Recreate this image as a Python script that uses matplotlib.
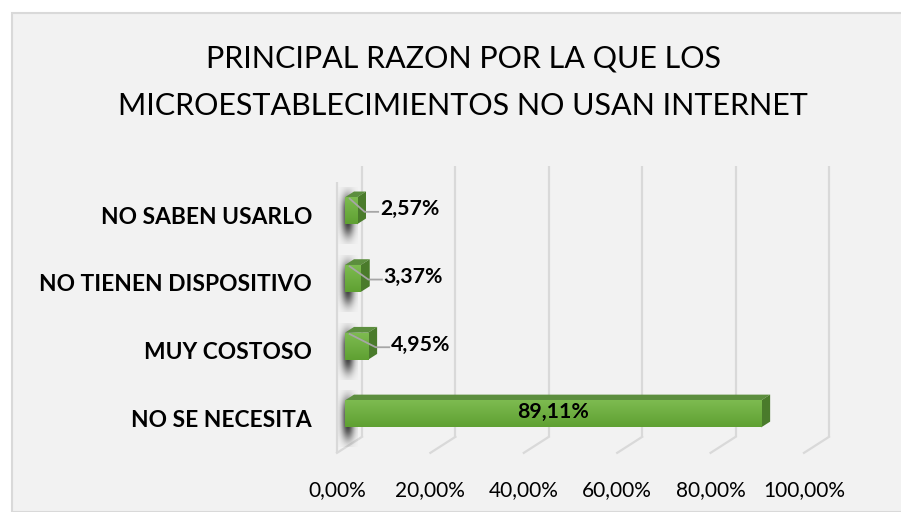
import numpy as np
import matplotlib.pyplot as plt
from matplotlib.patches import Polygon, Rectangle

# data (bottom to top as drawn)
categorias = ['NO SE NECESITA', 'MUY COSTOSO', 'NO TIENEN DISPOSITIVO', 'NO SABEN USARLO']
valores = [89.11, 4.95, 3.37, 2.57]
etiquetas = ['89,11%', '4,95%', '3,37%', '2,57%']
ticks = [0, 20, 40, 60, 80, 100]
tick_labels = ['0,00%', '20,00%', '40,00%', '60,00%', '80,00%', '100,00%']

plt.rcParams['font.family'] = ['Lato', 'DejaVu Sans']

W, H = 901, 512
fig = plt.figure(figsize=(W / 100, H / 100), dpi=100)
fig.patch.set_facecolor('white')
fig.patches.append(Rectangle((12 / W, 0), 1, 1 - 13 / H, transform=fig.transFigure,
                             facecolor='#f2f2f2', edgecolor='#d9d9d9', linewidth=1.5, zorder=-5))

fig.text(463 / W, 1 - 59 / H, 'PRINCIPAL RAZON POR LA QUE LOS', ha='center', va='center',
         fontsize=22, color='black')
fig.text(463 / W, 1 - 106 / H, 'MICROESTABLECIMIENTOS NO USAN INTERNET', ha='center', va='center',
         fontsize=22, color='black')

# axes: x px = 337 + 4.67*x, y px = 419 - 67.7*y (front plane)
ax_l, ax_r, ax_t, ax_b = 300, 860, 140, 470
ax = fig.add_axes([ax_l / W, 1 - ax_b / H, (ax_r - ax_l) / W, (ax_b - ax_t) / H], zorder=2)
ax.set_facecolor('none')
for s in ax.spines.values():
    s.set_visible(False)
ax.set_yticks([])
ax.set_xticks(ticks)
ax.set_xticklabels(tick_labels, fontsize=15)
ax.tick_params(axis='x', length=0, pad=7)

# depth projection
DX, DY = 25 / 4.67, 16 / 67.7
y_floor, y_top = -0.5, 3.5
grid_c = '#d9d9d9'

for t in ticks:
    ax.plot([t + DX, t + DX], [y_floor + DY, y_top + DY], color=grid_c, lw=1.6, zorder=1,
            solid_capstyle='butt')
    ax.plot([t, t + DX], [y_floor, y_floor + DY], color=grid_c, lw=1.6, zorder=1)
ax.plot([0, 0], [y_floor, y_top], color=grid_c, lw=1.6, zorder=1, solid_capstyle='butt')

# shadows on the left wall
sy = np.linspace(-1, 1, 80)[:, None]
sx = np.linspace(-1, 1, 40)[None, :]
alpha = np.exp(-(sx ** 2) * 2.5) * np.exp(-(np.abs(sy) ** 3) * 2.5)
shade = np.zeros((80, 40, 4))
shade[..., :3] = 0.22
shade[..., 3] = alpha
for i in range(len(valores)):
    ax.imshow(shade, extent=[0.2, 4.4, i - 0.42, i + 0.42], origin='lower', aspect='auto',
              zorder=2, interpolation='bilinear')

# bars
bh = 27 / 67.7
d0, d1 = 0.32, 0.68
grad = np.linspace(0, 1, 64)[:, None]
c_top = np.array([0x7d, 0xbb, 0x50]) / 255
c_bot = np.array([0x5f, 0xa0, 0x32]) / 255
gimg = (c_bot + (c_top - c_bot) * grad)[:, None, :].repeat(2, axis=1)

for i, v in enumerate(valores):
    x0 = DX * d0
    yb = i - bh / 2 + DY * d0
    yt = yb + bh
    ddx, ddy = DX * (d1 - d0), DY * (d1 - d0)
    top = Polygon([(x0, yt), (x0 + v, yt), (x0 + v + ddx, yt + ddy), (x0 + ddx, yt + ddy)],
                  closed=True, facecolor='#5c8e3e', edgecolor='none', zorder=3)
    side = Polygon([(x0 + v, yb), (x0 + v, yt), (x0 + v + ddx, yt + ddy), (x0 + v + ddx, yb + ddy)],
                   closed=True, facecolor='#4a7b2b', edgecolor='none', zorder=3)
    ax.add_patch(top)
    ax.add_patch(side)
    bar = ax.barh(yb + bh / 2, v, height=bh, left=x0, color='#6aab3d', zorder=4)[0]
    im = ax.imshow(gimg, extent=[x0, x0 + v, yb, yt], origin='lower', aspect='auto',
                   zorder=4.5, interpolation='bilinear')
    im.set_clip_path(bar)

    if v > 20:
        ax.text(x0 + v / 2, i + 0.1, etiquetas[i], ha='center', va='center',
                fontsize=15.3, fontweight='bold', zorder=6)
    else:
        lx = x0 + v + ddx + 3.0
        ly = i + 0.1
        ax.plot([x0 + 1.0, x0 + v + ddx - 0.3, lx - 0.4], [yt - 0.02, ly - 0.04, ly - 0.04],
                color='#a6a6a6', lw=1.3, zorder=5)
        ax.text(lx, ly, etiquetas[i], ha='left', va='center', fontsize=15.3,
                fontweight='bold', zorder=6)

# category labels
for i, c in enumerate(categorias):
    ax.text((312 - 337) / 4.67, i - 0.02, c, ha='right', va='center', fontsize=16.4,
            fontweight='bold', clip_on=False)

# limits last, imshow changes them
ax.set_xlim((ax_l - 337) / 4.67, (ax_r - 337) / 4.67)
ax.set_ylim((419 - ax_b) / 67.7, (419 - ax_t) / 67.7)

fig.savefig('out.png', dpi=100, facecolor=fig.get_facecolor())
